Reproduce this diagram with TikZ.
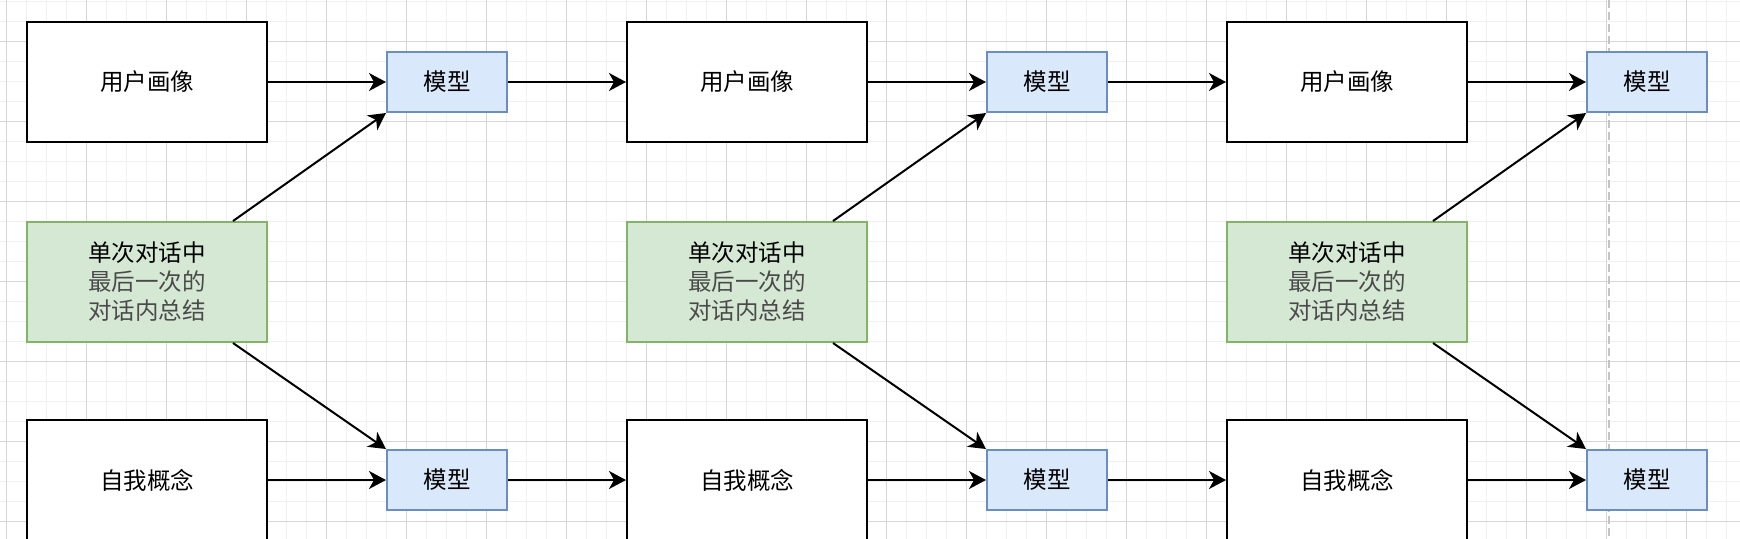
\documentclass[tikz,border=0pt]{standalone}
\usepackage{fontspec}
\setmainfont{Noto Sans CJK SC}
\usetikzlibrary{arrows.meta}
\definecolor{modelfill}{HTML}{DAE8FC}
\definecolor{modeldraw}{HTML}{6C8EBF}
\definecolor{sumfill}{HTML}{D5E8D4}
\definecolor{sumdraw}{HTML}{82B366}
\definecolor{sumgray}{HTML}{4A4A4A}
\definecolor{gridminor}{HTML}{F0F0F0}
\definecolor{gridmajor}{HTML}{D6D6D6}
\definecolor{pageline}{HTML}{C4C4C4}

\begin{document}
\begin{tikzpicture}[x=0.5pt, y=-0.5pt,
	every node/.style={text centered, font=\fontsize{11.75}{14.5}\selectfont},
	bigbox/.style={rectangle, draw, line width=1pt, fill=white, minimum width=120pt, minimum height=60pt},
	modelbox/.style={rectangle, draw=modeldraw, fill=modelfill, line width=1pt, minimum width=60pt, minimum height=30pt},
	sumbox/.style={rectangle, draw=sumdraw, fill=sumfill, line width=1pt, minimum width=120pt, minimum height=60pt, align=center},
	flow/.style={line width=1pt, -{Stealth[length=8.5pt, width=9pt, inset=2.5pt]}}]

	\useasboundingbox (0, 0) rectangle (1740, 538);
	\fill[white] (0, 0) rectangle (1740, 538);
	\begin{scope}
		\clip (0, 0) rectangle (1740, 538);
		\draw[gridminor, line width=0.5pt, step=10pt, shift={(6.5, 1.3)}] (-40, 600) grid (1780, -40);
		\draw[gridmajor, line width=0.5pt, step=40pt, shift={(6.5, 41.3)}] (-120, 600) grid (1780, -120);
	\end{scope}
	\draw[pageline, line width=1pt, dash pattern=on 4pt off 2pt] (1608.5, 0) -- (1608.5, 538);

	\node[bigbox]	(user0)		at (147, 82)		{用户画像};
	\node[modelbox]	(modelU0)	at (447, 82)		{模型};
	\node[sumbox]	(sum0)		at (147, 282)
		{单次对话中\\\color{sumgray}最后一次的\\\color{sumgray}对话内总结};
	\node[bigbox]	(self0)		at (147, 480)		{自我概念};
	\node[modelbox]	(modelS0)	at (447, 480)		{模型};

	\node[bigbox]	(user1)		at (747, 82)		{用户画像};
	\node[modelbox]	(modelU1)	at (1047, 82)		{模型};
	\node[sumbox]	(sum1)		at (747, 282)
		{单次对话中\\\color{sumgray}最后一次的\\\color{sumgray}对话内总结};
	\node[bigbox]	(self1)		at (747, 480)		{自我概念};
	\node[modelbox]	(modelS1)	at (1047, 480)		{模型};

	\node[bigbox]	(user2)		at (1347, 82)		{用户画像};
	\node[modelbox]	(modelU2)	at (1647, 82)		{模型};
	\node[sumbox]	(sum2)		at (1347, 282)
		{单次对话中\\\color{sumgray}最后一次的\\\color{sumgray}对话内总结};
	\node[bigbox]	(self2)		at (1347, 480)		{自我概念};
	\node[modelbox]	(modelS2)	at (1647, 480)		{模型};

	\draw[flow]	(user0) -- (modelU0);
	\draw[flow]	(modelU0) -- (user1);
	\draw[flow]	(user1) -- (modelU1);
	\draw[flow]	(modelU1) -- (user2);
	\draw[flow]	(user2) -- (modelU2);

	\draw[flow]	(self0) -- (modelS0);
	\draw[flow]	(modelS0) -- (self1);
	\draw[flow]	(self1) -- (modelS1);
	\draw[flow]	(modelS1) -- (self2);
	\draw[flow]	(self2) -- (modelS2);

	\draw[flow]	([xshift=-17.5pt]sum0.north east) -- (modelU0.south west);
	\draw[flow]	([xshift=-17.5pt]sum0.south east) -- (modelS0.north west);
	\draw[flow]	([xshift=-17.5pt]sum1.north east) -- (modelU1.south west);
	\draw[flow]	([xshift=-17.5pt]sum1.south east) -- (modelS1.north west);
	\draw[flow]	([xshift=-17.5pt]sum2.north east) -- (modelU2.south west);
	\draw[flow]	([xshift=-17.5pt]sum2.south east) -- (modelS2.north west);
\end{tikzpicture}
\end{document}
